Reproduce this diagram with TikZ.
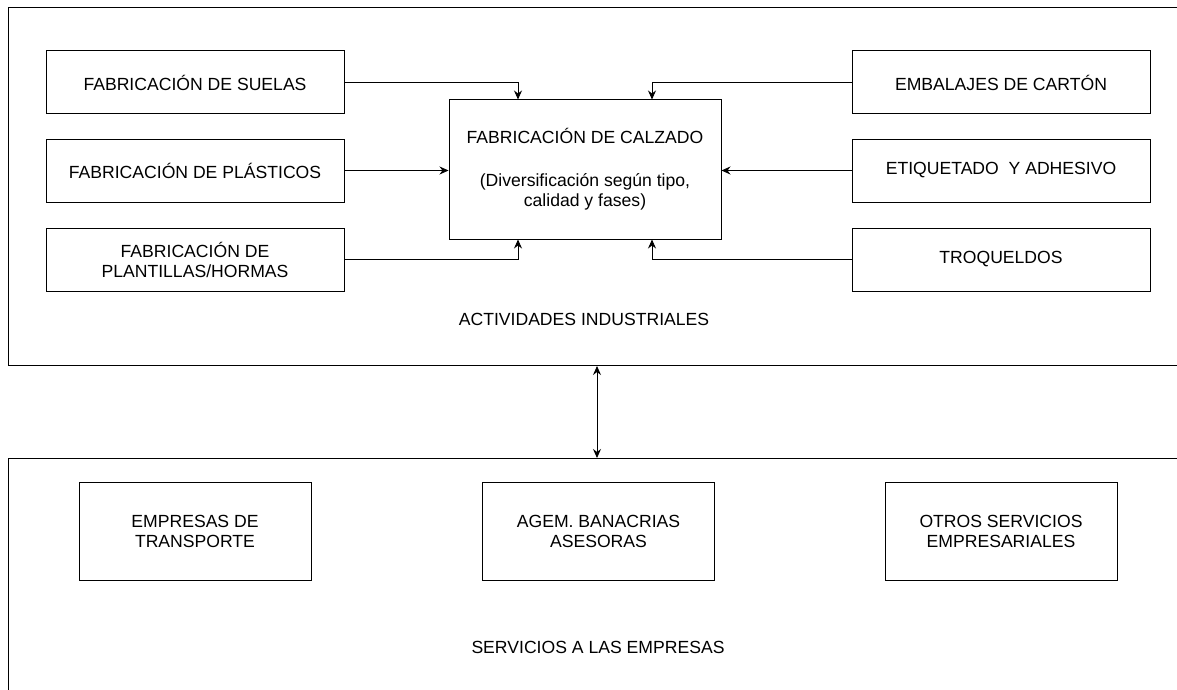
\documentclass[tikz,border=0pt]{standalone}
\usepackage{fontspec}
\setmainfont{Liberation Sans}
\usetikzlibrary{arrows.meta,calc}
\begin{document}
\begin{tikzpicture}[x=1pt,y=-1pt,
  every node/.style={font=\fontsize{17.6}{20}\selectfont, align=center, inner sep=0pt},
  box/.style={draw, line width=1pt, minimum width=298pt, minimum height=63pt},
  sbox/.style={draw, line width=1pt, minimum width=232pt, minimum height=98pt},
  cont/.style={draw, line width=1pt, anchor=north west},
  conn/.style={line width=0.9pt, -{Stealth[length=9pt,width=8pt,inset=3pt]}},
  bconn/.style={line width=0.9pt, {Stealth[length=9pt,width=8pt,inset=3pt]}-{Stealth[length=9pt,width=8pt,inset=3pt]}}]
\useasboundingbox (0,0) rectangle (1177,690);
\clip (0,0) rectangle (1177,690);
% containers
\node[cont, minimum width=1200pt, minimum height=358pt] (top) at (8,7) {};
\node[cont, minimum width=1200pt, minimum height=300pt] (bot) at (8,458) {};
% top side boxes
\node[box] (s1) at (195,82.5) {FABRICACIÓN DE SUELAS};
\node[box] (s2) at (195,170.5) {FABRICACIÓN DE PLÁSTICOS};
\node[box] (s3) at (195,259.5) {FABRICACIÓN DE\\PLANTILLAS/HORMAS};
\node[box] (r1) at (1001,82.5) {EMBALAJES DE CARTÓN};
\node[box] (r2) at (1001,170.5) {ETIQUETADO\ \ Y ADHESIVO};
\node[box] (r3) at (1001,259.5) {TROQUELDOS};
% centre box
\node[draw, line width=1pt, minimum width=272pt, minimum height=139pt] (c) at (585,169.5)
  {FABRICACIÓN DE CALZADO\\[23pt](Diversificación según tipo,\\calidad y fases)};
\node (actlbl) at (584,319) {ACTIVIDADES INDUSTRIALES};
% connectors
\coordinate (lx) at (518,0);
\coordinate (rx) at (652,0);
\draw[conn] (s1.east) -| (c.north -| lx);
\draw[conn] (s2.east) -- (c.west |- s2.east);
\draw[conn] (s3.east) -| (c.south -| lx);
\draw[conn] (r1.west) -| (c.north -| rx);
\draw[conn] (r2.west) -- (c.east |- r2.west);
\draw[conn] (r3.west) -| (c.south -| rx);
% link between containers
\coordinate (ax) at (597,0);
\draw[bconn] (top.south -| ax) -- (bot.north -| ax);
% bottom boxes
\node[sbox] (b1) at (195,531) {EMPRESAS DE\\TRANSPORTE};
\node[sbox] (b2) at (598.5,531) {AGEM. BANACRIAS\\ASESORAS};
\node[sbox] (b3) at (1001,531) {OTROS SERVICIOS\\EMPRESARIALES};
\node (srvlbl) at (598,647) {SERVICIOS A LAS EMPRESAS};
\end{tikzpicture}
\end{document}
